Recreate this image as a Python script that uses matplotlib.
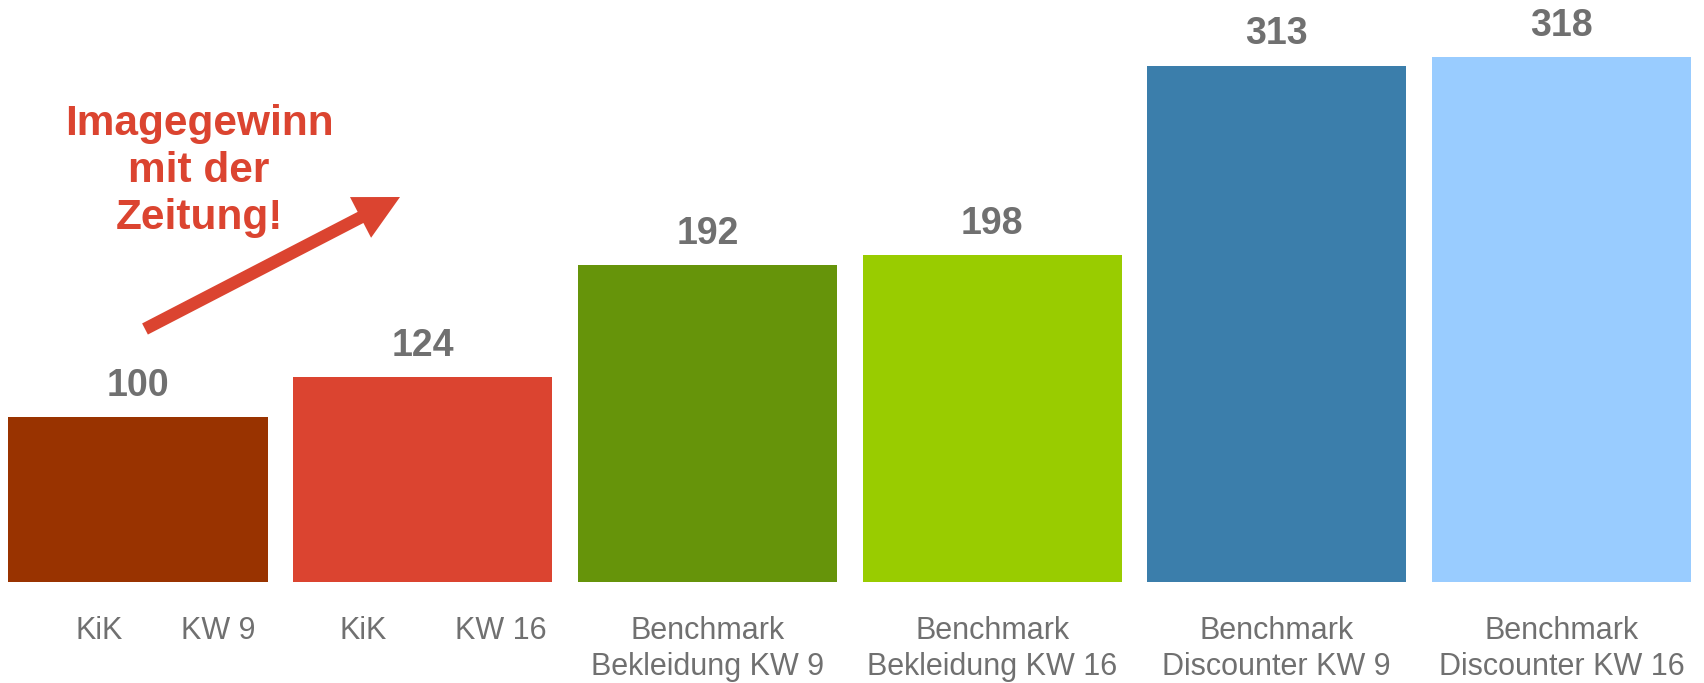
import matplotlib
matplotlib.use("Agg")
import matplotlib.pyplot as plt
from matplotlib.patches import FancyArrowPatch, ArrowStyle

plt.rcParams['font.family'] = ['Liberation Sans', 'DejaVu Sans']

# ---- data ----
values = [100, 124, 192, 198, 313, 318]
bar_colors = ["#993300", "#db4430", "#66940a", "#99cc00", "#3b7eab", "#99ccff"]
labels_left = ["KiK", "KiK", None, None, None, None]
labels_right = ["KW 9", "KW 16", None, None, None, None]
labels_multi = [None, None,
                "Benchmark\nBekleidung KW 9", "Benchmark\nBekleidung KW 16",
                "Benchmark\nDiscounter KW 9", "Benchmark\nDiscounter KW 16"]
annotation_text = "Imagegewinn\nmit der\nZeitung!"

W, H = 1704, 683
fig = plt.figure(figsize=(W / 100, H / 100), dpi=100)
ax = fig.add_axes([0, 0, 1, 1])
ax.set_axis_off()

# layout: baseline at px 582, 1.65 px per unit; bar pitch 284.7 px, first center 138 px
base_px, ppu = 582.0, 1.65
pitch, c0 = 284.7, 138.0
ax.set_xlim((0 - c0) / pitch, (W - c0) / pitch)
ax.set_ylim((base_px - H) / ppu, base_px / ppu)

x = list(range(len(values)))
ax.bar(x, values, width=0.91, color=bar_colors, linewidth=0)

gray = "#707070"
for xi, v in zip(x, values):
    ax.annotate(str(v), (xi, v), xytext=(0, 22.5), textcoords="offset points",
                ha="center", va="center", fontsize=27, fontweight="bold", color=gray)

def py(px):
    return (base_px - px) / ppu

left_off = [-0.137, -0.209]
right_off = [0.281, 0.276]
for i, xi in enumerate(x):
    if labels_multi[i]:
        ax.text(xi, py(649), labels_multi[i], ha="center", va="center",
                fontsize=22, color=gray, linespacing=1.28)
    else:
        ax.text(xi + left_off[i], py(631), labels_left[i], ha="center", va="center",
                fontsize=22, color=gray)
        ax.text(xi + right_off[i], py(631), labels_right[i], ha="center", va="center",
                fontsize=22, color=gray)

red = "#db4430"
fig.text(199 / W, 1 - 171 / H, annotation_text, ha="center", va="center",
         fontsize=30.5, fontweight="bold", color=red, linespacing=1.23)

style = ArrowStyle.Simple(head_length=32, head_width=33, tail_width=9)
arrow = FancyArrowPatch((145, H - 329), (400, H - 197), arrowstyle=style,
                        mutation_scale=1, color=red, linewidth=0,
                        shrinkA=0, shrinkB=0, transform=None)
fig.add_artist(arrow)

fig.savefig("out.png", dpi=100)
